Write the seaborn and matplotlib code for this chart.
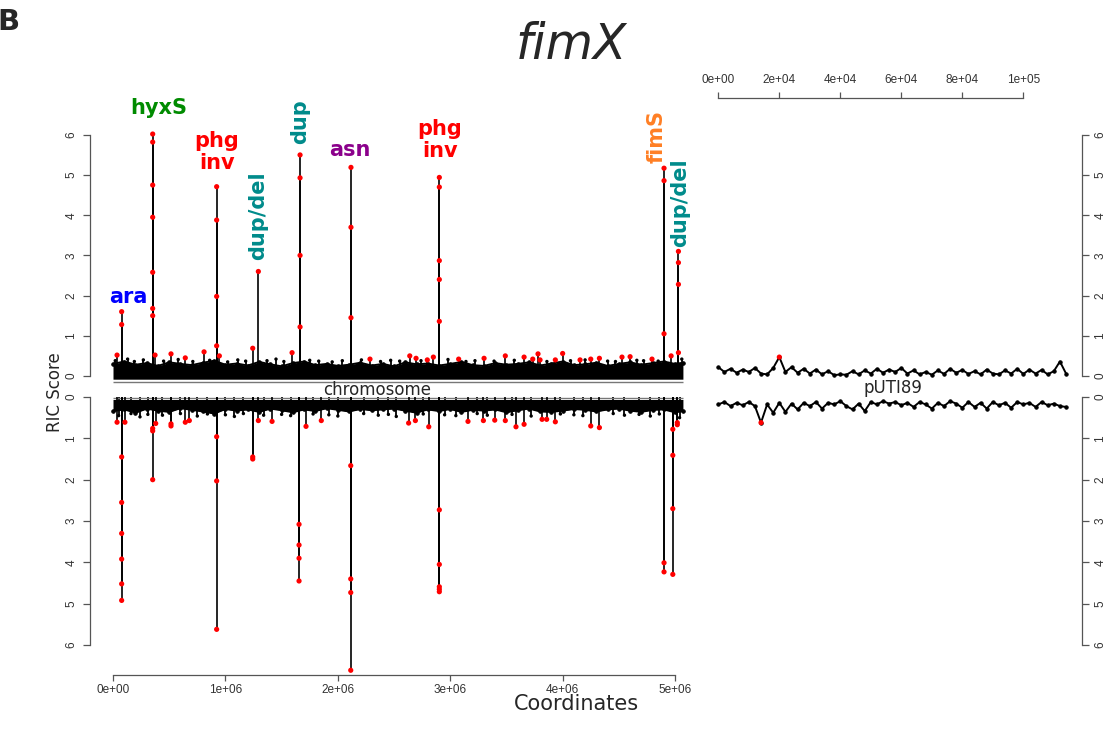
import numpy as np
import pandas as pd
import matplotlib
matplotlib.use("Agg")
import matplotlib.pyplot as plt
import seaborn as sns

# -----------------------------
# Data (coordinates in bp, RIC scores)
# -----------------------------
CHROM_LEN = 5.07e6
PLASMID_LEN = 114.2e3

# chromosome, forward strand (upper panel): highlighted points
top_pos = [0.036e6, 0.077e6, 0.077e6,
           0.353e6, 0.353e6, 0.353e6, 0.353e6, 0.353e6, 0.353e6, 0.353e6, 0.374e6,
           0.516e6, 0.643e6, 0.810e6,
           0.922e6, 0.922e6, 0.922e6, 0.922e6, 0.946e6,
           1.243e6, 1.293e6, 1.593e6,
           1.664e6, 1.664e6, 1.664e6, 1.664e6,
           2.117e6, 2.117e6, 2.117e6,
           2.286e6, 2.640e6, 2.696e6, 2.796e6, 2.850e6,
           2.903e6, 2.903e6, 2.903e6, 2.903e6, 2.903e6,
           3.075e6, 3.301e6, 3.490e6, 3.657e6, 3.734e6, 3.781e6, 3.799e6, 3.935e6,
           4.000e6, 4.155e6, 4.250e6, 4.327e6, 4.528e6, 4.600e6, 4.795e6,
           4.902e6, 4.902e6, 4.902e6,
           4.965e6, 5.030e6, 5.030e6, 5.030e6, 5.030e6]
top_score = [0.52, 1.60, 1.28,
             6.02, 5.82, 4.75, 3.95, 2.58, 1.68, 1.50, 0.52,
             0.55, 0.45, 0.60,
             4.71, 3.88, 1.98, 0.75, 0.50,
             0.69, 2.60, 0.58,
             5.50, 4.93, 3.00, 1.22,
             5.19, 3.70, 1.45,
             0.42, 0.50, 0.44, 0.40, 0.47,
             4.94, 4.70, 2.87, 2.40, 1.36,
             0.42, 0.44, 0.50, 0.47, 0.42, 0.55, 0.40, 0.40,
             0.56, 0.40, 0.42, 0.44, 0.47, 0.48, 0.42,
             5.17, 4.86, 1.05,
             0.50, 3.10, 2.82, 2.28, 0.58]

# chromosome, reverse strand (lower panel): highlighted points
bot_pos = [0.036e6, 0.106e6,
           0.077e6, 0.077e6, 0.077e6, 0.077e6, 0.077e6, 0.077e6,
           0.353e6, 0.353e6, 0.353e6, 0.380e6,
           0.516e6, 0.516e6, 0.643e6, 0.679e6,
           0.922e6, 0.922e6, 0.922e6,
           1.243e6, 1.243e6, 1.293e6, 1.415e6,
           1.655e6, 1.655e6, 1.655e6, 1.655e6,
           1.717e6, 1.853e6,
           2.115e6, 2.115e6, 2.115e6, 2.115e6,
           2.630e6, 2.690e6, 2.809e6,
           2.903e6, 2.903e6, 2.903e6, 2.903e6, 2.903e6,
           3.158e6, 3.295e6, 3.396e6, 3.490e6, 3.585e6, 3.657e6, 3.817e6, 3.858e6,
           3.935e6, 4.250e6, 4.327e6,
           4.902e6, 4.902e6,
           4.980e6, 4.980e6, 4.980e6, 4.980e6,
           5.020e6, 5.020e6]
bot_score = [0.61, 0.61,
             1.45, 2.55, 3.30, 3.92, 4.52, 4.92,
             0.76, 0.82, 2.00, 0.64,
             0.65, 0.70, 0.61, 0.57,
             0.96, 2.03, 5.62,
             1.45, 1.50, 0.57, 0.59,
             3.08, 3.58, 3.90, 4.45,
             0.71, 0.57,
             1.66, 4.40, 4.73, 6.61,
             0.63, 0.57, 0.72,
             2.73, 4.05, 4.59, 4.65, 4.71,
             0.59, 0.57, 0.56, 0.57, 0.72, 0.66, 0.54, 0.54,
             0.60, 0.70, 0.74,
             4.01, 4.23,
             0.78, 1.41, 2.70, 4.29,
             0.62, 0.67]

# minor (non significant) spikes sticking out of the noise band
minor_top_pos = [0.02e6, 0.13e6, 0.19e6, 0.27e6, 0.45e6, 0.58e6, 0.71e6, 0.86e6,
                 1.02e6, 1.11e6, 1.18e6, 1.37e6, 1.45e6, 1.52e6, 1.75e6, 1.83e6,
                 1.95e6, 2.04e6, 2.21e6, 2.38e6, 2.47e6, 2.55e6, 2.74e6, 2.98e6,
                 3.14e6, 3.22e6, 3.39e6, 3.57e6, 3.86e6, 4.07e6, 4.20e6, 4.40e6,
                 4.47e6, 4.66e6, 4.72e6, 4.85e6, 5.06e6]
minor_top_score = [0.38, 0.42, 0.36, 0.40, 0.37, 0.41, 0.36, 0.39,
                   0.35, 0.40, 0.37, 0.38, 0.42, 0.36, 0.39, 0.37,
                   0.35, 0.38, 0.40, 0.36, 0.39, 0.37, 0.38, 0.41,
                   0.36, 0.38, 0.37, 0.39, 0.36, 0.38, 0.40, 0.37,
                   0.36, 0.39, 0.38, 0.37, 0.42]
minor_bot_pos = [0.05e6, 0.16e6, 0.24e6, 0.31e6, 0.44e6, 0.60e6, 0.75e6, 0.84e6,
                 1.00e6, 1.08e6, 1.16e6, 1.34e6, 1.50e6, 1.58e6, 1.78e6, 1.92e6,
                 2.00e6, 2.23e6, 2.36e6, 2.45e6, 2.52e6, 2.76e6, 2.95e6, 3.05e6,
                 3.24e6, 3.33e6, 3.55e6, 3.72e6, 3.98e6, 4.10e6, 4.18e6, 4.45e6,
                 4.55e6, 4.68e6, 4.78e6, 4.86e6, 5.04e6]
minor_bot_score = [0.45, 0.40, 0.48, 0.42, 0.44, 0.40, 0.46, 0.41,
                   0.43, 0.47, 0.40, 0.44, 0.42, 0.45, 0.41, 0.43,
                   0.46, 0.40, 0.44, 0.42, 0.47, 0.41, 0.43, 0.45,
                   0.40, 0.44, 0.42, 0.46, 0.41, 0.43, 0.45, 0.40,
                   0.44, 0.42, 0.46, 0.41, 0.50]

# background noise envelope along the chromosome (every 100 kb)
band_pos = list(np.arange(0, 5.05e6, 1e5)) + [CHROM_LEN]
band_top = [0.30, 0.36, 0.28, 0.32, 0.25, 0.34, 0.30, 0.27, 0.33, 0.38,
            0.28, 0.31, 0.26, 0.35, 0.29, 0.24, 0.32, 0.36, 0.27, 0.30,
            0.25, 0.28, 0.33, 0.26, 0.30, 0.24, 0.34, 0.29, 0.31, 0.26,
            0.30, 0.35, 0.27, 0.25, 0.32, 0.28, 0.30, 0.34, 0.26, 0.31,
            0.36, 0.27, 0.29, 0.33, 0.25, 0.30, 0.34, 0.28, 0.32, 0.36,
            0.30, 0.33]
band_bot = [0.34, 0.30, 0.38, 0.28, 0.33, 0.36, 0.27, 0.31, 0.35, 0.40,
            0.29, 0.33, 0.30, 0.36, 0.28, 0.32, 0.37, 0.30, 0.34, 0.27,
            0.31, 0.35, 0.29, 0.32, 0.30, 0.28, 0.33, 0.38, 0.30, 0.34,
            0.29, 0.36, 0.31, 0.33, 0.30, 0.37, 0.32, 0.28, 0.35, 0.36,
            0.33, 0.29, 0.31, 0.35, 0.30, 0.28, 0.33, 0.36, 0.31, 0.30,
            0.37, 0.34]

# plasmid pUTI89 (every 2 kb)
pl_pos = list(np.arange(0, 115e3, 2e3))
pl_top = [0.22, 0.10, 0.18, 0.08, 0.16, 0.10, 0.20, 0.06, 0.04, 0.20,
          0.47, 0.10, 0.22, 0.08, 0.18, 0.06, 0.16, 0.04, 0.12, 0.02,
          0.04, 0.03, 0.12, 0.04, 0.14, 0.06, 0.18, 0.08, 0.16, 0.10,
          0.20, 0.06, 0.14, 0.04, 0.10, 0.03, 0.14, 0.05, 0.18, 0.08,
          0.15, 0.05, 0.12, 0.04, 0.16, 0.06, 0.04, 0.14, 0.06, 0.18,
          0.05, 0.16, 0.06, 0.15, 0.04, 0.12, 0.36, 0.06]
pl_bot = [0.18, 0.12, 0.22, 0.14, 0.20, 0.12, 0.22, 0.62, 0.18, 0.38,
          0.14, 0.36, 0.16, 0.30, 0.14, 0.22, 0.12, 0.28, 0.14, 0.18,
          0.10, 0.22, 0.30, 0.16, 0.34, 0.12, 0.18, 0.10, 0.16, 0.12,
          0.20, 0.14, 0.24, 0.12, 0.18, 0.28, 0.14, 0.22, 0.10, 0.16,
          0.26, 0.12, 0.24, 0.14, 0.28, 0.12, 0.20, 0.14, 0.26, 0.12,
          0.18, 0.14, 0.24, 0.12, 0.20, 0.16, 0.22, 0.24]
RED_CUTOFF = 0.4

chrom_ticks = [0, 1e6, 2e6, 3e6, 4e6, 5e6]
chrom_ticklabels = ["0e+00", "1e+06", "2e+06", "3e+06", "4e+06", "5e+06"]
pl_ticks = [0, 2e4, 4e4, 6e4, 8e4, 1e5]
pl_ticklabels = ["0e+00", "2e+04", "4e+04", "6e+04", "8e+04", "1e+05"]
score_ticks = [0, 1, 2, 3, 4, 5, 6]

# -----------------------------
# Styling
# -----------------------------
sns.set_style("white")
plt.rcParams["font.family"] = ["DejaVu Sans"]
W, H = 1110, 741
AX_COLOR = "#555555"
TICK_FONT = dict(fontfamily="Liberation Sans", fontsize=8.5, color="#333333")

fig = plt.figure(figsize=(W / 100, H / 100), dpi=100)

def px_axes(x0, y0, x1, y1):
    return fig.add_axes([x0 / W, 1 - y1 / H, (x1 - x0) / W, (y1 - y0) / H])

ax_ct = px_axes(105, 128, 690, 380)
ax_cb = px_axes(105, 393, 690, 674)
ax_pt = px_axes(712, 128, 1070, 380)
ax_pb = px_axes(712, 393, 1070, 674)

for ax in [ax_ct, ax_cb, ax_pt, ax_pb]:
    ax.set_facecolor("none")
    for s in ax.spines.values():
        s.set_visible(False)
    ax.set_xticks([])
    ax.set_yticks([])

ax_ct.set_xlim(-0.0712e6, 5.133e6)
ax_cb.set_xlim(-0.0712e6, 5.133e6)
ax_pt.set_xlim(-2.07e3, 115.3e3)
ax_pb.set_xlim(-2.07e3, 115.3e3)
ax_ct.set_ylim(-0.1, 6.17)
ax_pt.set_ylim(-0.1, 6.17)
ax_cb.set_ylim(6.70, -0.097)
ax_pb.set_ylim(6.70, -0.097)

# -----------------------------
# Chromosome panels
# -----------------------------
for ax, base, band, mpos, mscore, pos, score in [
        (ax_ct, -0.08, band_top, minor_top_pos, minor_top_score, top_pos, top_score),
        (ax_cb, 0.06, band_bot, minor_bot_pos, minor_bot_score, bot_pos, bot_score)]:
    ax.fill_between(band_pos, base, band, color="black", lw=0)
    sns.lineplot(x=band_pos, y=band, ax=ax, color="black", lw=1.4,
                 marker="o", markersize=2.5, markeredgecolor="black")
    ax.vlines(mpos, 0, mscore, color="black", lw=1.3)
    sns.scatterplot(x=mpos, y=mscore, ax=ax, color="black", s=6,
                    edgecolor="none")
    ax.vlines(pos, 0, score, color="black", lw=1.2, zorder=3)
    sns.scatterplot(x=pos, y=score, ax=ax, color="red", s=14,
                    edgecolor="none", zorder=5)

ax_ct.hlines(-0.15, 0, CHROM_LEN, color="#777777", lw=1, clip_on=False)
ax_cb.hlines(0.02, 0, CHROM_LEN, color="#777777", lw=1, clip_on=False)
ax_ct.text(2.35e6, -0.36, "chromosome", ha="center", va="center", fontsize=12)

# -----------------------------
# Plasmid panels
# -----------------------------
for ax, vals in [(ax_pt, pl_top), (ax_pb, pl_bot)]:
    sns.lineplot(x=pl_pos, y=vals, ax=ax, color="black", lw=1.4,
                 marker="o", markersize=2.4, markeredgecolor="black")
    hi = [(p, v) for p, v in zip(pl_pos, vals) if v > RED_CUTOFF]
    sns.scatterplot(x=[p for p, v in hi], y=[v for p, v in hi], ax=ax,
                    color="red", s=14, edgecolor="none", zorder=5)
ax_pt.text(57.4e3, -0.3, "pUTI89", ha="center", va="center", fontsize=12)

# -----------------------------
# Feature labels
# -----------------------------
annotations = [
    ("ara", 0.133e6, 1.97, "#0000ff", 0),
    ("hyxS", 0.41e6, 6.67, "#008b00", 0),
    ("phg\ninv", 0.925e6, 5.58, "#ff0000", 0),
    ("dup/del", 1.29e6, 4.0, "#008b8b", 90),
    ("dup", 1.664e6, 6.32, "#008b8b", 90),
    ("asn", 2.11e6, 5.63, "#8b008b", 0),
    ("phg\ninv", 2.91e6, 5.87, "#ff0000", 0),
    ("fimS", 4.84e6, 5.97, "#ff7f24", 90),
    ("dup/del", 5.045e6, 4.31, "#008b8b", 90),
]
for txt, x, y, col, rot in annotations:
    ax_ct.text(x, y, txt, color=col, rotation=rot, ha="center", va="center",
               fontsize=15, fontweight="bold", linespacing=1.15)

# -----------------------------
# Axes (R style, detached)
# -----------------------------
def score_axis(ax, side, offset_px):
    ax.spines[side].set_visible(True)
    ax.spines[side].set_position(("outward", offset_px * 0.72))
    ax.spines[side].set_bounds(0, 6)
    ax.spines[side].set_color(AX_COLOR)
    ax.spines[side].set_linewidth(0.9)
    ax.yaxis.set_ticks_position(side)
    ax.set_yticks(score_ticks)
    ax.set_yticklabels([str(t) for t in score_ticks], rotation=90,
                       va="center", **TICK_FONT)
    ax.tick_params(axis="y", length=5, width=0.9, color=AX_COLOR, pad=4)

def coord_axis(ax, side, offset_px, ticks, labels, pad):
    ax.spines[side].set_visible(True)
    ax.spines[side].set_position(("outward", offset_px * 0.72))
    ax.spines[side].set_bounds(ticks[0], ticks[-1])
    ax.spines[side].set_color(AX_COLOR)
    ax.spines[side].set_linewidth(0.9)
    ax.xaxis.set_ticks_position(side)
    ax.set_xticks(ticks)
    ax.set_xticklabels(labels, **TICK_FONT)
    ax.tick_params(axis="x", length=4.5, width=0.9, color=AX_COLOR, pad=pad)

score_axis(ax_ct, "left", 15)
score_axis(ax_cb, "left", 15)
score_axis(ax_pt, "right", 12)
score_axis(ax_pb, "right", 12)
coord_axis(ax_cb, "bottom", 1, chrom_ticks, chrom_ticklabels, 2)
coord_axis(ax_pt, "top", 30, pl_ticks, pl_ticklabels, 4)

# -----------------------------
# Titles
# -----------------------------
fig.text(-0.002, 1 - 22 / H, "B", fontsize=21, fontweight="bold",
         ha="left", va="center")
fig.text(571 / W, 1 - 45 / H, "fimX", fontsize=35, style="italic",
         ha="center", va="center")
fig.text(576 / W, 1 - 704 / H, "Coordinates", fontsize=15,
         ha="center", va="center")
fig.text(55 / W, 1 - 392 / H, "RIC Score", fontsize=12, rotation=90,
         ha="center", va="center")

plt.savefig("out.png", dpi=100)
